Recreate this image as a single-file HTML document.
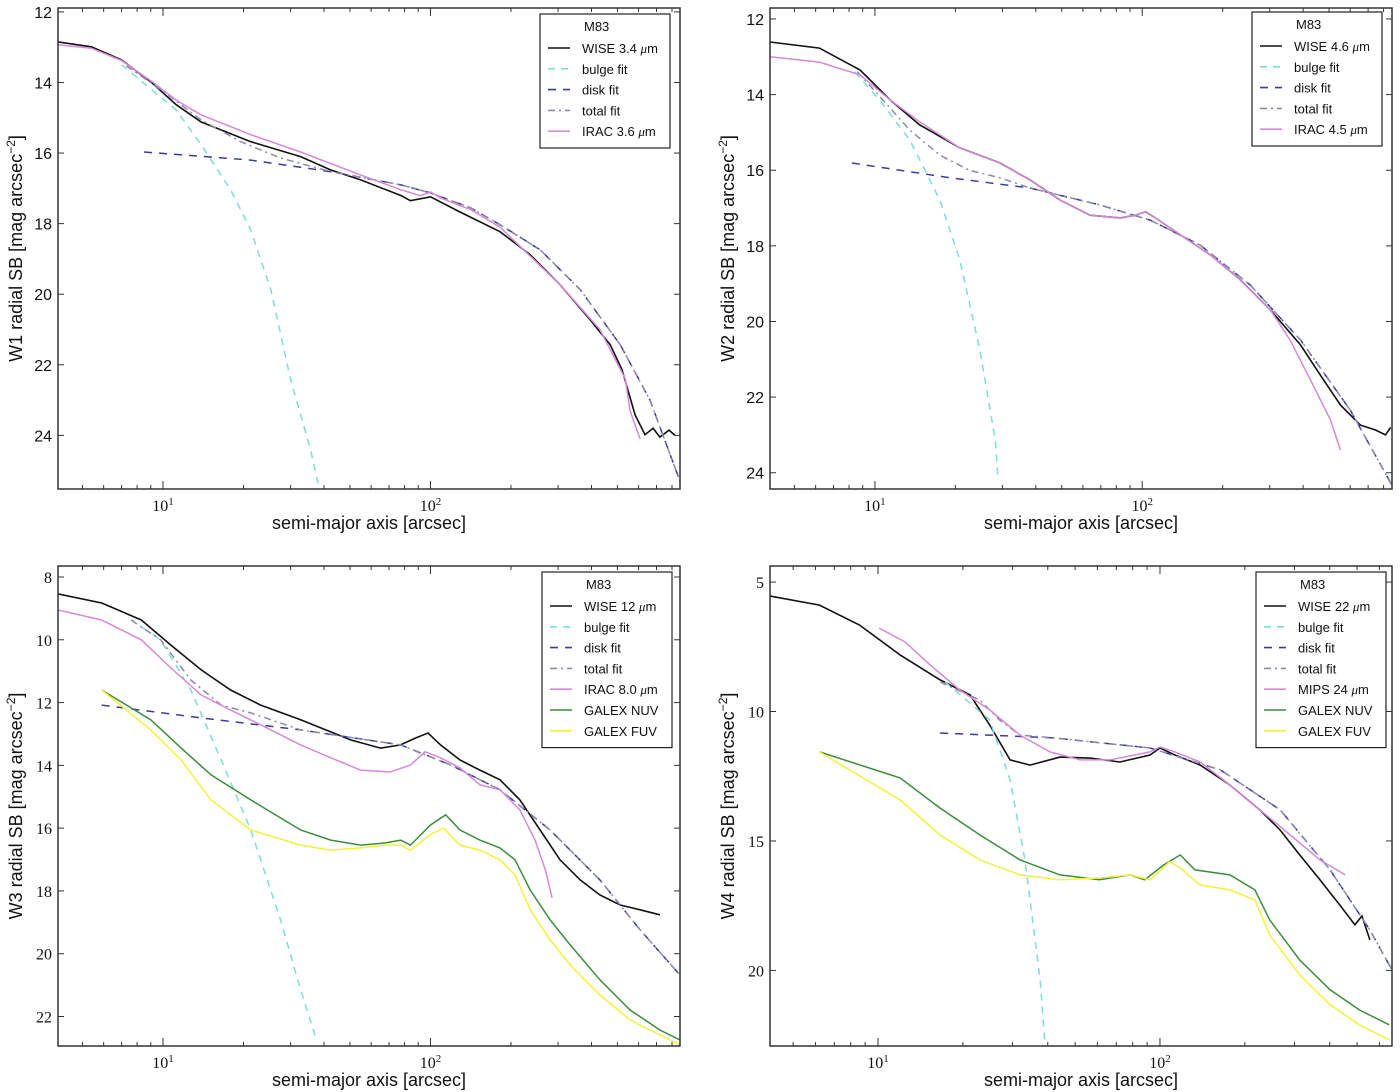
<!DOCTYPE html>
<html><head><meta charset="utf-8"><style>
body{margin:0;background:#fff}
svg{display:block;font-family:"Liberation Sans",sans-serif}
</style></head><body>
<svg id="c" width="1400" height="1092" viewBox="0 0 1400 1092"></svg>
<script>
// ---- Panel 1 (W1) data ----
const p1WiseX=[4.05,5.4,7.0,9.0,11.2,13.9,21.3,32.7,42.4,54.8,77.3,84.2,100,129,182,236,305,395,470,520,582,634,680,721,780,820];
const p1WiseY=[12.85,12.99,13.36,13.98,14.63,15.12,15.68,16.1,16.48,16.76,17.2,17.35,17.24,17.67,18.23,18.88,19.73,20.72,21.43,22.14,23.42,23.98,23.8,24.05,23.85,24.0];
const p1IracX=[4.05,5.4,7.0,9.0,11.2,13.9,21.3,32.7,54.8,77.3,91.9,100,109,141,182,305,430,535,557,608];
const p1IracY=[12.93,13.03,13.38,13.95,14.5,14.92,15.48,15.97,16.62,17.04,17.21,17.1,17.27,17.6,18.1,19.73,21.0,22.4,23.3,24.1];
const p1BulgeX=[7.0,11.2,13.9,17.9,21.3,25.3,30.0,35.6,38.2];
const p1BulgeY=[13.5,14.78,15.77,17.04,18.18,19.87,22.42,24.4,25.45];
const p1DiskX=[8.5,21.3,42.4,77.3,100,141,182,257,363,512,662,857];
const p1DiskY=[15.97,16.2,16.53,16.9,17.13,17.55,18.03,18.74,19.87,21.43,23.0,25.3];
const p1TotalX=[7.3,9.8,13.9,19.5,27.5,42.4,77.3,100,141,182,257,363,512,662,857];
const p1TotalY=[13.53,14.2,15.06,15.68,16.14,16.53,16.9,17.13,17.55,18.03,18.74,19.87,21.43,23.0,25.3];
// ---- Panel 2 (W2) ----
const p2WiseX=[4.05,6.2,8.8,11.4,14.7,20.8,29.4,38.1,49.3,63.9,82.8,94.2,103,112,139,180,233,302,391,464,552,655,746,813,850];
const p2WiseY=[12.61,12.77,13.35,14.14,14.8,15.41,15.81,16.26,16.79,17.19,17.26,17.19,17.1,17.26,17.71,18.24,18.9,19.7,20.62,21.42,22.21,22.74,22.87,23.0,22.8];
const p2IracX=[4.05,6.2,8.8,11.4,14.7,20.8,29.4,38.1,49.3,63.9,82.8,94.2,103,112,139,180,233,302,358,426,506,552];
const p2IracY=[13.0,13.14,13.48,14.14,14.72,15.41,15.81,16.26,16.79,17.19,17.26,17.19,17.1,17.26,17.71,18.24,18.9,19.7,20.5,21.55,22.6,23.4];
const p2BulgeX=[8.4,10.4,13.5,17.5,20.8,24.7,28.2,28.9];
const p2BulgeY=[13.4,14.14,15.2,16.79,18.38,20.76,23.14,24.2];
const p2DiskX=[8.2,19.1,38.1,69.5,107,165,254,391,600,860];
const p2DiskY=[15.81,16.2,16.47,16.92,17.32,17.98,19.04,20.49,22.34,24.33];
const p2TotalX=[8.6,10.7,13.5,17.5,22.5,29.4,38.1,69.5,107,165,254,391,600,860];
const p2TotalY=[13.4,14.14,14.94,15.6,16.0,16.2,16.47,16.92,17.32,17.98,19.04,20.49,22.34,24.33];
// ---- Panel 3 (W3) ----
const p3WiseX=[4.05,5.9,8.3,10.7,13.9,17.9,23.2,32.7,50.3,65.0,77.3,88,98,109,129,153,182,216,257,305,363,430,512,608,721];
const p3WiseY=[8.54,8.83,9.37,10.17,10.96,11.6,12.08,12.55,13.19,13.45,13.35,13.13,12.97,13.35,13.83,14.15,14.46,15.1,16.06,17.01,17.65,18.13,18.45,18.6,18.76];
const p3IracX=[4.05,5.9,8.3,10.7,13.9,17.9,23.2,32.7,42.4,54.8,70.9,84.2,95.5,109,129,153,182,216,246,269,285];
const p3IracY=[9.05,9.37,10.0,10.9,11.76,12.24,12.71,13.35,13.76,14.15,14.21,13.99,13.57,13.76,14.08,14.62,14.78,15.42,16.38,17.33,18.22];
const p3NuvX=[5.9,9.0,11.7,15.1,21.3,32.7,42.4,54.8,67.9,77.3,84.2,100,114,129,153,182,207,236,280,333,430,557,721,857];
const p3NuvY=[11.6,12.55,13.45,14.3,15.1,16.06,16.38,16.54,16.47,16.38,16.54,15.9,15.58,16.06,16.38,16.63,17.01,17.97,18.92,19.72,20.83,21.79,22.43,22.75];
const p3FuvX=[5.9,9.0,11.7,15.1,21.3,32.7,42.4,54.8,67.9,77.3,84.2,100,112,129,153,182,207,236,280,333,430,557,721,857];
const p3FuvY=[11.6,12.87,13.83,15.1,16.06,16.54,16.7,16.63,16.54,16.54,16.7,16.2,16.0,16.54,16.7,17.01,17.49,18.6,19.56,20.36,21.31,22.11,22.59,22.9];
const p3BulgeX=[7.6,9.8,12.7,16.5,21.3,27.5,32.7,37.5];
const p3BulgeY=[9.37,10.0,11.6,13.83,16.06,18.92,21.15,22.75];
const p3DiskX=[5.9,13.9,32.7,77.3,119,182,280,430,608,857];
const p3DiskY=[12.08,12.49,12.87,13.35,13.99,14.78,16.06,17.65,19.24,20.68];
const p3TotalX=[7.6,9.8,12.7,16.5,21.3,32.7,77.3,119,182,280,430,608,857];
const p3TotalY=[9.37,10.0,11.28,12.08,12.33,12.87,13.35,13.99,14.78,16.06,17.65,19.24,20.68];
// ---- Panel 4 (W4) ----
const p4WiseX=[4.14,6.2,8.6,12.0,16.6,21.2,24.9,29.4,34.6,44.2,56.4,72.1,92.2,100,113,139,177,226,267,313,369,434,491,520,555];
const p4WiseY=[5.54,5.89,6.66,7.82,8.78,9.36,10.52,11.87,12.07,11.76,11.8,11.95,11.68,11.41,11.68,12.07,12.84,13.8,14.58,15.54,16.5,17.47,18.24,17.9,18.82];
const p4MipsX=[10.1,12.5,15.3,19.5,24.9,31.9,40.7,52.1,66.5,92.2,100,113,139,177,226,290,369,454];
const p4MipsY=[6.78,7.32,8.2,9.17,9.94,10.91,11.56,11.87,11.87,11.56,11.37,11.56,11.95,12.84,13.8,14.77,15.73,16.31];
const p4NuvX=[6.2,12.0,16.6,23.0,31.9,44.2,61.0,78.3,88.3,103,118,133,177,217,245,313,401,510,650];
const p4NuvY=[11.56,12.57,13.73,14.77,15.73,16.31,16.5,16.31,16.5,15.93,15.54,16.12,16.31,16.89,18.05,19.6,20.75,21.53,22.1];
const p4FuvX=[6.2,12.0,16.6,23.0,31.9,44.2,61.0,78.3,92.2,108,118,139,177,217,245,313,401,510,650];
const p4FuvY=[11.56,13.42,14.77,15.73,16.31,16.5,16.43,16.31,16.5,15.81,16.04,16.7,16.89,17.28,18.63,20.17,21.33,22.1,22.68];
const p4BulgeX=[17.3,24.9,29.4,33.2,37.6,39.1];
const p4BulgeY=[8.86,10.33,12.64,15.73,20.37,22.88];
const p4DiskX=[16.6,42.0,92.2,164,267,401,555,665];
const p4DiskY=[10.83,11.02,11.41,12.26,13.8,16.12,18.44,19.98];
const p4TotalX=[16.6,23.0,27.0,31.9,42.0,92.2,164,267,401,555,665];
const p4TotalY=[8.86,9.56,10.33,10.91,11.02,11.41,12.26,13.8,16.12,18.44,19.98];
// tick label arrays
const p1YTicks=[12,14,16,18,20,22,24];
const p2YTicks=[12,14,16,18,20,22,24];
const p3YTicks=[8,10,12,14,16,18,20,22];
const p4YTicks=[5,10,15,20];
const xDecades=[1,2];

const NS='http://www.w3.org/2000/svg';
const svg=document.getElementById('c');
function mk(tag,attrs,parent){const e=document.createElementNS(NS,tag);for(const k in attrs)e.setAttribute(k,attrs[k]);(parent||svg).appendChild(e);return e;}
const C={wise:'#111',bulge:'#7fdcd6',disk:'#3b3b99',total:'#8a8aaa',ir:'#d58ad8',nuv:'#3c8c3c',fuv:'#f2f23a'};
const DASH={bulge:'7,6',disk:'8,7',total:'7,4,2,4'};

function panel(cfg){
  const {id,L,R,T,B,xl,xr,yt,yb}=cfg;
  const g=mk('g',{});
  
  
  const sx=v=>L+(Math.log10(v)-Math.log10(xl))/(Math.log10(xr)-Math.log10(xl))*(R-L);
  const sy=v=>T+(v-yt)/(yb-yt)*(B-T);
  const cp=mk('clipPath',{id:'cp'+id},g);mk('rect',{x:L,y:T,width:R-L,height:B-T},cp);
  const pg=mk('g',{'clip-path':'url(#cp'+id+')'},g);
  cfg.series.forEach(s=>{
    const d=s.x.map((v,i)=>(i?'L':'M')+sx(v).toFixed(1)+','+sy(s.y[i]).toFixed(1)).join('');
    const p=mk('path',{d:d,fill:'none',stroke:C[s.c],'stroke-width':s.c==='wise'?1.6:1.5,'stroke-dasharray':DASH[s.c]||'none'},pg);
    
    
  });
  const fr=mk('rect',{x:L,y:T,width:R-L,height:B-T,fill:'none',stroke:'#333','stroke-width':1.5},g);
  
  
  cfg.yticks.forEach(t=>{
    const y=sy(t);
    mk('line',{x1:L,x2:L+6,y1:y,y2:y,stroke:'#333'},g);mk('line',{x1:R,x2:R-6,y1:y,y2:y,stroke:'#333'},g);
    const tx=mk('text',{x:L-6,y:y+6,'text-anchor':'end','font-size':16,fill:'#111','font-family':cfg.serifY?'"Liberation Serif",serif':'"Liberation Sans",sans-serif'},g);
    tx.textContent=t;
    
    
  });
  for(let e=0;e<=3;e++)for(let m=1;m<10;m++){
    const v=m*Math.pow(10,e);if(v<xl||v>xr)continue;
    const len=m===1?8:4;const x=sx(v);
    mk('line',{x1:x,x2:x,y1:B,y2:B-len,stroke:'#333'},g);mk('line',{x1:x,x2:x,y1:T,y2:T+len,stroke:'#333'},g);
  }
  xDecades.forEach(e=>{
    const x=sx(Math.pow(10,e));
    const tx=mk('text',{x:x,y:B+22,'text-anchor':'middle','font-size':16,'font-family':'"Liberation Serif",serif',fill:'#111'},g);
    tx.innerHTML='10<tspan dy="-6" font-size="11">'+e+'</tspan>';
    
    
  });
  const xt=mk('text',{x:(L+R)/2,y:B+40,'text-anchor':'middle','font-size':18,fill:'#111'},g);
  xt.textContent='semi-major axis [arcsec]';
  
  
  const yt2=mk('text',{x:0,y:0,transform:'translate('+(L-36)+','+((T+B)/2)+') rotate(-90)','text-anchor':'middle','font-size':18,fill:'#111'},g);
  yt2.innerHTML=cfg.band+' radial SB [mag arcsec<tspan dy="-7" font-size="12">−2</tspan><tspan dy="7">]</tspan>';
  
  
  const lg=mk('g',{},g);
  
  
  const lx=cfg.legX,ly=cfg.legY,n=cfg.series.length;
  mk('rect',{x:lx,y:ly,width:130,height:30+n*20.8,fill:'#fff',stroke:'#222','stroke-width':1.2},lg);
  const tt=mk('text',{x:lx+44,y:ly+17,'font-size':13,fill:'#111'},lg);tt.textContent='M83';
  cfg.series.forEach((s,i)=>{
    const y=ly+34+i*20.8;
    mk('line',{x1:lx+8,x2:lx+30,y1:y,y2:y,stroke:C[s.c],'stroke-width':1.6,'stroke-dasharray':DASH[s.c]||'none'},lg);
    const t=mk('text',{x:lx+42,y:y+5,'font-size':13,fill:'#111'},lg);
    t.innerHTML=s.label;
    
    
  });
}
const mu='<tspan font-family="Liberation Serif,serif" font-style="italic">μ</tspan>m';
panel({id:'w1',band:'W1',L:58,R:680,T:8,B:489,xl:4.05,xr:857,yt:11.89,yb:25.52,yticks:p1YTicks,legX:540,legY:14,
 series:[{n:'wise',c:'wise',x:p1WiseX,y:p1WiseY,label:'WISE 3.4 '+mu},{n:'bulge',c:'bulge',x:p1BulgeX,y:p1BulgeY,label:'bulge fit'},{n:'disk',c:'disk',x:p1DiskX,y:p1DiskY,label:'disk fit'},{n:'total',c:'total',x:p1TotalX,y:p1TotalY,label:'total fit'},{n:'irac',c:'ir',x:p1IracX,y:p1IracY,label:'IRAC 3.6 '+mu}]});
panel({id:'w2',band:'W2',L:770,R:1392,T:8,B:489,xl:4.05,xr:860,yt:11.71,yb:24.43,yticks:p2YTicks,legX:1252,legY:12,
 series:[{n:'wise',c:'wise',x:p2WiseX,y:p2WiseY,label:'WISE 4.6 '+mu},{n:'bulge',c:'bulge',x:p2BulgeX,y:p2BulgeY,label:'bulge fit'},{n:'disk',c:'disk',x:p2DiskX,y:p2DiskY,label:'disk fit'},{n:'total',c:'total',x:p2TotalX,y:p2TotalY,label:'total fit'},{n:'irac',c:'ir',x:p2IracX,y:p2IracY,label:'IRAC 4.5 '+mu}]});
panel({id:'w3',band:'W3',L:58,R:680,T:566,B:1046,xl:4.05,xr:857,yt:7.65,yb:22.94,yticks:p3YTicks,serifY:true,legX:542,legY:572,
 series:[{n:'wise',c:'wise',x:p3WiseX,y:p3WiseY,label:'WISE 12 '+mu},{n:'bulge',c:'bulge',x:p3BulgeX,y:p3BulgeY,label:'bulge fit'},{n:'disk',c:'disk',x:p3DiskX,y:p3DiskY,label:'disk fit'},{n:'total',c:'total',x:p3TotalX,y:p3TotalY,label:'total fit'},{n:'irac',c:'ir',x:p3IracX,y:p3IracY,label:'IRAC 8.0 '+mu},{n:'nuv',c:'nuv',x:p3NuvX,y:p3NuvY,label:'GALEX NUV'},{n:'fuv',c:'fuv',x:p3FuvX,y:p3FuvY,label:'GALEX FUV'}]});
panel({id:'w4',band:'W4',L:770,R:1392,T:566,B:1046,xl:4.14,xr:665,yt:4.38,yb:22.92,yticks:p4YTicks,serifY:true,legX:1256,legY:572,
 series:[{n:'wise',c:'wise',x:p4WiseX,y:p4WiseY,label:'WISE 22 '+mu},{n:'bulge',c:'bulge',x:p4BulgeX,y:p4BulgeY,label:'bulge fit'},{n:'disk',c:'disk',x:p4DiskX,y:p4DiskY,label:'disk fit'},{n:'total',c:'total',x:p4TotalX,y:p4TotalY,label:'total fit'},{n:'mips',c:'ir',x:p4MipsX,y:p4MipsY,label:'MIPS 24 '+mu},{n:'nuv',c:'nuv',x:p4NuvX,y:p4NuvY,label:'GALEX NUV'},{n:'fuv',c:'fuv',x:p4FuvX,y:p4FuvY,label:'GALEX FUV'}]});
</script>
</body></html>
